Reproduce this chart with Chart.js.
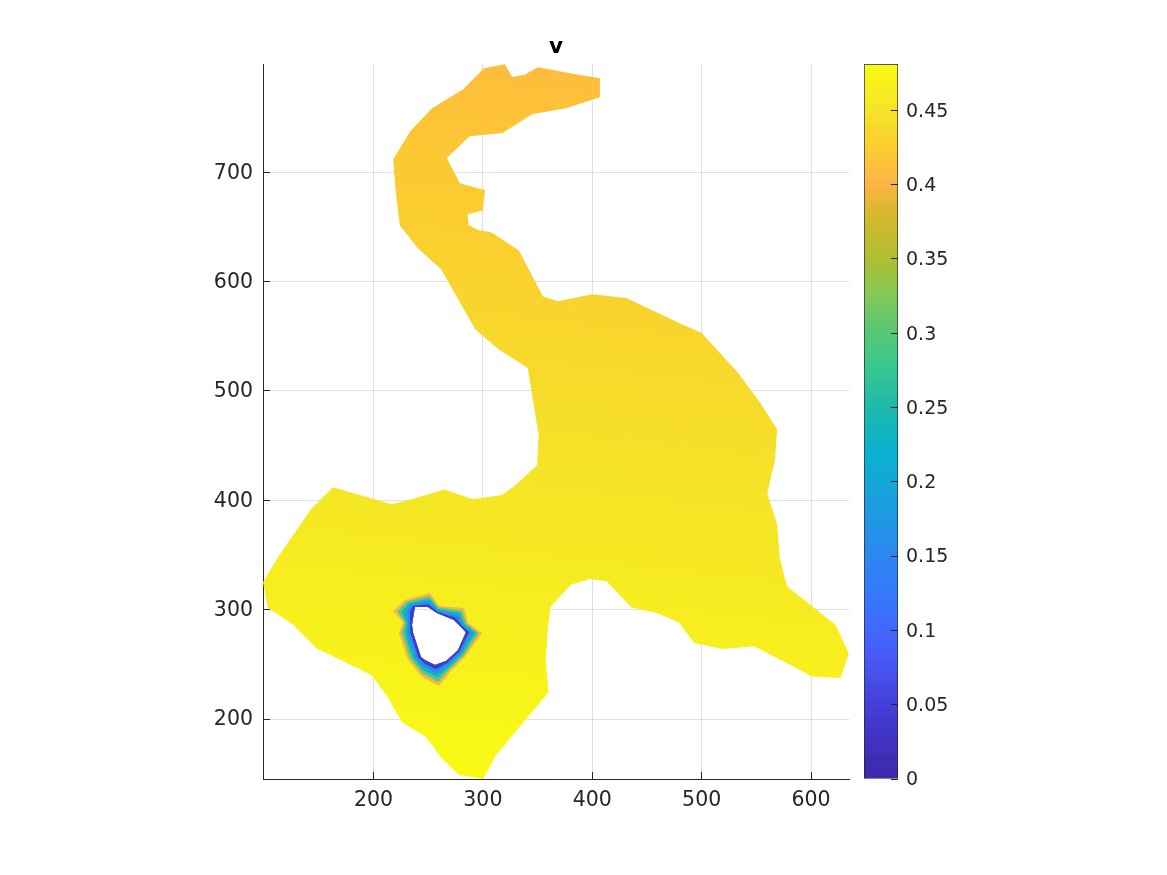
<!DOCTYPE html>
<html>
<head>
<meta charset="utf-8">
<script src="https://cdn.jsdelivr.net/npm/chart.js@4"></script>
<style>
  html, body { margin: 0; padding: 0; background: #fff; }
  canvas { position: absolute; top: 0; }
  #plot { left: 0; }
  #colorbar { left: 850px; }
</style>
</head>
<body>
<canvas id="plot" width="1167" height="875"></canvas>
<canvas id="colorbar" width="110" height="875"></canvas>
<script>
const titleText = 'v';
const xTicks = [200, 300, 400, 500, 600];
const yTicks = [200, 300, 400, 500, 600, 700];
const xRange = [99, 634.7];
const yRange = [145.2, 799];
const cbTicks = [0, 0.05, 0.1, 0.15, 0.2, 0.25, 0.3, 0.35, 0.4, 0.45];
const cbLabels = ['0', '0.05', '0.1', '0.15', '0.2', '0.25', '0.3', '0.35', '0.4', '0.45'];
const cbMax = 0.481;

// colour of v
const cmapValues = [0, 0.03, 0.05, 0.08, 0.1, 0.13, 0.15, 0.2, 0.22, 0.25, 0.28, 0.3, 0.33, 0.35, 0.38, 0.4, 0.41, 0.42, 0.45, 0.48];
const cmapColors = ['#3e26a8', '#4135c4', '#4440d8', '#4858f5', '#4068ff', '#337df8', '#2d87f0', '#14a8d8', '#08b2cf',
  '#1eb9aa', '#3cc88c', '#55c878', '#8cc850', '#afbe32', '#d7b82d', '#fab446', '#ffbc3c', '#fcc832', '#f5e426', '#f9fb14'];

// outer boundary of the domain
const boundary = [[301,795],[320,798.7],[327,787],[338.5,789.5],[350.5,796],[379.5,790.5],[407,786],
  [407,768.5],[376,758.5],[345,753],[318,736],[288,733],[267,713],[279,690],[302,683.5],[300,665],
  [286,661.5],[287,651.5],[296.5,647],[308,645],[333,628.5],[355,586.5],[368.5,582],[400,588.5],
  [431,585],[480,562],[500,553],[533,517],[553,490],[569,465],[567,436.5],[560,406.5],[569,378],
  [571.5,347],[578,321.5],[622.5,286],[634.5,260],[627,237.5],[600.5,239],[587,246.5],[548,266.5],
  [519.5,264],[493,269.5],[479,288.5],[459,297],[436,302],[423.5,315],[413,326],[398,328],[381,323],
  [362,303],[359.5,284],[357.5,254],[360,224.5],[312,167],[300,145.2],[278,149],[262.5,164],[248,183.5],
  [226,197],[213,220],[198.5,240],[147.5,265],[127,286],[103.5,301.5],[99,325],[112,347],[143,392],
  [163,412],[217,396.5],[235,401],[265,410],[291,401],[317.5,405],[330,414],[349.5,432],[351,459.5],
  [341,521],[314.5,538],[293,556.5],[262,611],[240.5,630.5],[224,651.5],[220.5,681.5],[218,712],
  [234,738],[253.5,758.5],[282,776]];

// contours of v around the hole, outermost first
const contour45 = [[217.8,298.7],[228.8,308.8],[251.6,315.2],[259.9,303.3],[282.7,301.5],[286.4,287.8],[299.2,278.6],
  [283.6,256.7],[269.9,243],[259.9,230.2],[244.3,238.4],[230.6,255.8],[223.3,278.6],[227,288.7]];
const contour36 = [[221.6,298.5],[230.6,307.5],[251.2,312.6],[259.5,302],[280.9,299.3],[284.9,287.2],[296.3,278.8],
  [282.3,258],[269.2,245],[259.2,234],[244.8,241.5],[233.2,256],[225.8,278.8],[228.6,288.2]];
const contour27 = [[225.5,298.3],[232.5,306.2],[250.9,310.1],[259.1,300.7],[279,297.1],[283.4,286.7],[293.3,279],
  [281,259.2],[268.5,247],[258.4,237.9],[245.4,244.6],[235.7,256.2],[228.4,279],[230.3,287.6]];
const contour18 = [[229.3,298.2],[234.3,305],[250.5,307.5],[258.8,299.5],[277.2,294.9],[282,286.1],[290.4,279.1],
  [279.8,260.5],[267.7,249],[257.7,241.7],[245.9,247.8],[238.3,256.3],[230.9,279.1],[231.9,287.1]];
const contour09 = [[233.2,298],[236.2,303.7],[250.2,305],[258.4,298.2],[275.4,292.7],[280.5,285.6],[287.4,279.3],
  [278.5,261.7],[267,251],[257,245.6],[246.5,250.9],[240.8,256.5],[233.5,279.3],[233.6,286.5]];
const hole = [[237,297.8],[238,302.4],[249.8,302.4],[258,296.9],[273.6,290.5],[279,285],[284.5,279.5],
  [277.2,263],[266.3,253],[256.2,249.4],[247,254],[243.4,256.7],[236,279.5],[235.2,286]];
const bandColors = ['#f0b848', '#62c488', '#0cb8c0', '#3088f5', '#4438d0'];

const ink = '#262626';

function withHole(ring) {
  const back = hole.slice().reverse();
  const pts = ring.concat([ring[0]], back, [back[0], ring[0]]);
  return pts.map(p => ({ x: p[0], y: p[1] }));
}

function shape(ring, color) {
  return {
    data: withHole(ring),
    showLine: true,
    fill: 'shape',
    backgroundColor: color,
    borderWidth: 0,
    pointRadius: 0,
    tension: 0
  };
}

// v falls slowly from the south tip to the north, with a small tilt
function fieldGradient(ctx) {
  const { chart } = ctx;
  if (!chart.chartArea) return cmapColors[18];
  const sx = chart.scales.x, sy = chart.scales.y;
  const g = chart.ctx.createLinearGradient(
    sx.getPixelForValue(270), sy.getPixelForValue(145),
    sx.getPixelForValue(345), sy.getPixelForValue(799));
  const low = 0.41;
  cmapValues.forEach((v, i) => {
    if (v >= low) g.addColorStop(1 - (v - low) / (0.48 - low), cmapColors[i]);
  });
  return g;
}

function colorbarGradient(ctx) {
  const { chart } = ctx;
  if (!chart.chartArea) return cmapColors[0];
  const a = chart.chartArea;
  const g = chart.ctx.createLinearGradient(0, a.bottom, 0, a.top);
  cmapValues.forEach((v, i) => g.addColorStop(v / cbMax, cmapColors[i]));
  return g;
}

new Chart(document.getElementById('plot'), {
  type: 'scatter',
  data: {
    // chart.js paints the first dataset last, so the inner band comes first
    datasets: [
      shape(contour09, bandColors[4]),
      shape(contour18, bandColors[3]),
      shape(contour27, bandColors[2]),
      shape(contour36, bandColors[1]),
      shape(contour45, bandColors[0]),
      shape(boundary, fieldGradient)
    ]
  },
  options: {
    responsive: false,
    animation: false,
    devicePixelRatio: 1,
    layout: { padding: { left: 0, right: 318, top: 35, bottom: 0 } },
    plugins: {
      legend: { display: false },
      tooltip: { enabled: false },
      title: {
        display: true,
        text: titleText,
        fullSize: false,
        color: '#000',
        font: { family: 'DejaVu Sans', size: 21.5, weight: 'bold', lineHeight: '25px' },
        padding: { top: 0, bottom: 4 }
      }
    },
    scales: {
      x: {
        type: 'linear',
        min: xRange[0],
        max: xRange[1],
        afterBuildTicks: s => { s.ticks = xTicks.map(v => ({ value: v })); },
        afterFit: s => { s.height = 96; },
        border: { color: ink, width: 1 },
        grid: { color: 'rgba(38,38,38,0.15)', tickColor: ink, tickLength: -7, z: -1 },
        ticks: { color: ink, font: { family: 'DejaVu Sans', size: 20.5 }, padding: 16, maxRotation: 0, autoSkip: false }
      },
      y: {
        type: 'linear',
        min: yRange[0],
        max: yRange[1],
        afterBuildTicks: s => { s.ticks = yTicks.map(v => ({ value: v })); },
        afterFit: s => { s.width = 263; },
        border: { color: ink, width: 1 },
        grid: { color: 'rgba(38,38,38,0.15)', tickColor: ink, tickLength: -7, z: -1 },
        // blank first line nudges the label down a little, lineHeight sets how far
        ticks: {
          color: ink,
          font: { family: 'DejaVu Sans', size: 20.5, lineHeight: 0.1 },
          padding: 17,
          autoSkip: false,
          callback: v => ['', String(v)]
        }
      }
    }
  }
});

new Chart(document.getElementById('colorbar'), {
  type: 'bar',
  data: {
    labels: [titleText],
    datasets: [{
      data: [cbMax],
      backgroundColor: colorbarGradient,
      borderColor: ink,
      borderWidth: 1,
      borderSkipped: false,
      barPercentage: 1,
      categoryPercentage: 1
    }]
  },
  options: {
    responsive: false,
    animation: false,
    devicePixelRatio: 1,
    layout: { padding: { left: 14, right: 0, top: 64, bottom: 96 } },
    plugins: { legend: { display: false }, tooltip: { enabled: false } },
    scales: {
      x: { display: false },
      y: {
        position: 'right',
        min: 0,
        max: cbMax,
        afterBuildTicks: s => { s.ticks = cbTicks.map(v => ({ value: v })); },
        afterFit: s => { s.width = 62; },
        border: { display: false },
        grid: { drawOnChartArea: false, tickColor: ink, tickLength: -7, z: 1 },
        ticks: {
          color: ink,
          font: { family: 'DejaVu Sans', size: 19, lineHeight: 0.16 },
          padding: 15,
          autoSkip: false,
          callback: v => ['', cbLabels[cbTicks.indexOf(v)]]
        }
      }
    }
  }
});
</script>
</body>
</html>
